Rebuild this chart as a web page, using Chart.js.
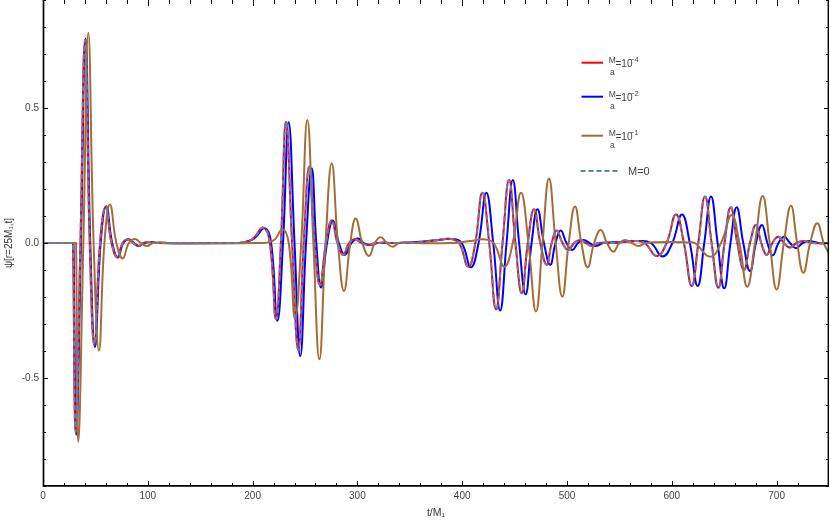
<!DOCTYPE html>
<html>
<head>
<meta charset="utf-8">
<title>psi waveform</title>
<script src="https://cdn.jsdelivr.net/npm/chart.js@4.4.1/dist/chart.umd.min.js"></script>
<style>
  html, body { margin: 0; padding: 0; background: #fff; }
  #wrap { width: 830px; height: 522px; }
</style>
</head>
<body>
<div id="wrap"><canvas id="psiChart" width="830" height="522"></canvas></div>
<script>
'use strict';

// ---- Series (t, psi) : extrema + zero crossings ----
const redT = [0, 28, 28.6, 31.2, 35.7, 40.1, 44.6, 49, 54.4, 59.8, 65.4, 70.9, 76, 81.4, 86, 91, 96, 102, 110,
  180, 190, 200, 210.2, 216.5, 222.3, 227, 231.9, 237.7, 243.6, 248.8, 254.1, 259.2, 264.3, 270, 275.5, 281, 286.5, 292, 297.7, 304, 310.4, 318,
  340, 360, 375, 388, 397, 405.8, 412.5, 419.2, 425.8, 432.3, 438.5, 444.7, 450.8, 456.8, 462.6, 468.5, 474.5, 480.6, 485.4, 490.2, 495.7, 501.2, 506.8, 512.4, 518, 523.5, 530,
  545, 563, 574, 585.6, 595, 604, 611.5, 619, 625.3, 631.7, 638, 644.4, 650.3, 656.2, 662.5, 668.9, 674.6, 680.3, 685.4, 690.5, 696, 701.6, 707, 712.8, 719, 725.5, 735, 750];
const redPsi = [0, 0, 0, -0.70, 0, 0.752, 0, -0.378, 0, 0.134, 0, -0.053, 0, 0.014, 0, -0.011, 0, 0.004, 0,
  0, 0.002, 0.015, 0.057, 0, -0.281, 0, 0.449, 0, -0.396, 0, 0.283, 0, -0.156, 0, 0.083, 0, -0.044, 0, 0.014, 0, -0.007, 0,
  0, 0.003, 0.010, 0.015, 0, -0.088, 0, 0.186, 0, -0.246, 0, 0.233, 0, -0.186, 0, 0.125, 0, -0.081, 0, 0.046, 0, -0.026, 0, 0.011, 0, -0.011, 0,
  0, 0.007, 0, -0.048, 0, 0.106, 0, -0.159, 0, 0.172, 0, -0.166, 0, 0.132, 0, -0.100, 0, 0.067, 0, -0.044, 0, 0.023, 0, -0.017, 0, 0.007, 0, 0];

const blueT = [0, 28.5, 29.1, 31.7, 36.2, 40.6, 45.1, 49.6, 55, 60.4, 66, 71.5, 76.6, 82, 86.6, 91.6, 96.6, 102.5, 110,
  180, 191, 201, 211.8, 217.7, 223.6, 229, 234.4, 240, 245.5, 251, 256.4, 260.8, 265.3, 271, 276.6, 282.3, 288, 294.3, 300.6, 306, 312, 320,
  340, 375, 390, 399.5, 408.3, 415.6, 423, 429.6, 436.2, 442.3, 448.3, 454.3, 460.5, 466.2, 471.8, 478, 484, 489, 494, 499.5, 505, 510.5, 516, 521.5, 527, 535,
  550, 568, 580, 591.3, 600.5, 609.7, 617.2, 624.7, 631, 637.4, 643.7, 650, 656, 661.9, 668.2, 674.6, 680.3, 686, 691.2, 696.3, 701.8, 707.3, 712.8, 718.5, 724.8, 731.2, 740, 750];
const bluePsi = [0, 0, 0, -0.71, 0, 0.757, 0, -0.385, 0, 0.136, 0, -0.054, 0, 0.014, 0, -0.011, 0, 0.004, 0,
  0, 0.002, 0.015, 0.055, 0, -0.288, 0, 0.447, 0, -0.419, 0, 0.277, 0, -0.165, 0, 0.083, 0, -0.044, 0, 0.017, 0, -0.007, 0,
  0, 0.010, 0.015, 0, -0.090, 0, 0.186, 0, -0.250, 0, 0.233, 0, -0.190, 0, 0.125, 0, -0.081, 0, 0.046, 0, -0.026, 0, 0.011, 0, -0.011, 0,
  0.003, 0.007, 0, -0.050, 0, 0.106, 0, -0.159, 0, 0.172, 0, -0.168, 0, 0.132, 0, -0.104, 0, 0.067, 0, -0.046, 0, 0.023, 0, -0.019, 0, 0.007, 0, 0];

const brownT = [0, 31, 31.6, 33.7, 38.5, 43.2, 48.3, 53.4, 58.6, 63.9, 70, 76, 82, 87.8, 93.4, 99, 105, 112, 120,
  205, 220, 228.4, 234.5, 240.5, 246.4, 252.2, 258, 263.7, 269.6, 275.5, 281.4, 287.2, 293.2, 298.4, 304.7, 311, 316.6, 322.2, 328, 333.7, 339.5, 345.4, 352,
  390, 400, 410, 420.2, 430, 440.2, 448.2, 456.1, 463.2, 470.4, 476.6, 482.8, 489.2, 495.5, 501.6, 507.6, 513.7, 519.7, 525.9, 532.1, 538.2, 544.2, 550, 555.5, 562, 568, 575,
  585, 600, 615, 622, 636.5, 647, 657.1, 664.5, 672, 679.4, 686.7, 693.4, 700, 706.9, 713.7, 719.6, 725.5, 732, 738.8, 745, 750];
const brownPsi = [0, 0, 0, -0.736, 0, 0.779, 0, -0.399, 0, 0.143, 0, -0.057, 0, 0.015, 0, -0.011, 0, 0.003, 0,
  0, 0.010, 0.051, 0, -0.279, 0, 0.456, 0, -0.431, 0, 0.295, 0, -0.178, 0, 0.091, 0, -0.048, 0, 0.021, 0, -0.014, 0, 0.003, 0,
  0, 0.004, 0.008, 0.014, 0, -0.088, 0, 0.186, 0, -0.254, 0, 0.239, 0, -0.199, 0, 0.135, 0, -0.090, 0, 0.048, 0, -0.032, 0, 0.011, 0, -0.011, 0,
  0.003, 0.004, 0.002, 0, -0.051, 0, 0.104, 0, -0.162, 0, 0.174, 0, -0.172, 0, 0.138, 0, -0.110, 0, 0.073, 0, -0.040];

// M=0 sits right on top of the 10^-4 curve
const m0T = redT;
const m0Psi = redPsi;

const legendExp = ['\u22124', '\u22122', '\u22121'];
const xTitle = 't/M\u2081';
const yTitle = '\u03c8[r=25M\u2081,t]';

const COLORS = {
  red: '#ff0000',
  blue: '#0000ff',
  brown: '#a36d35',
  m0: '#5e81b5',
  zero: '#cfcfcf',
  text: '#444',
};
const FONT = '"Liberation Sans", Arial, sans-serif';

function pts(ts, vs) { return ts.map((t, i) => ({ x: t, y: vs[i] })); }

function lineSet(label, data, color, order, dash) {
  return {
    label, data, order,
    borderColor: color,
    borderWidth: 2,
    borderDash: dash || [],
    pointRadius: 0,
    fill: false,
    tension: 0.45,
  };
}

// kill the label overhang padding so the plot box sits where the reference has it
function noPad(s) {
  s.paddingTop = 0; s.paddingBottom = 0; s.paddingLeft = 0; s.paddingRight = 0;
}

// ---- frame, inward ticks, custom legend ----
const framePlugin = {
  id: 'frame',
  afterDraw(chart) {
    const { ctx, chartArea: a, scales: { x, y } } = chart;
    ctx.save();
    ctx.strokeStyle = '#000';
    ctx.lineWidth = 1;
    const seg = (x1, y1, x2, y2) => { ctx.beginPath(); ctx.moveTo(x1, y1); ctx.lineTo(x2, y2); ctx.stroke(); };

    x.ticks.forEach(t => {
      const v = Math.round(t.value);
      if (v % 20) return;
      const px = Math.round(x.getPixelForValue(v)) + 0.5;
      const len = v % 100 === 0 ? 5 : 3;
      seg(px, a.bottom, px, a.bottom - len);
      seg(px, a.top, px, a.top + len + 1);
    });
    y.ticks.forEach(t => {
      const v = Math.round(t.value * 10);
      const py = Math.round(y.getPixelForValue(v / 10)) + 0.5;
      const len = v % 5 === 0 ? 5 : 3;
      seg(a.left, py, a.left + len, py);
      seg(a.right, py, a.right - len, py);
    });

    ctx.lineWidth = 1.7;
    seg(a.left + 0.5, a.top, a.left + 0.5, a.bottom + 1);
    seg(a.left, a.bottom - 0.2, a.right, a.bottom - 0.2);
    ctx.lineWidth = 1.4;
    seg(a.right - 0.7, a.top, a.right - 0.7, a.bottom);

    // legend
    const rows = [
      { y: 62.7, color: COLORS.red, exp: legendExp[0] },
      { y: 96.7, color: COLORS.blue, exp: legendExp[1] },
      { y: 135.7, color: COLORS.brown, exp: legendExp[2] },
    ];
    ctx.fillStyle = COLORS.text;
    rows.forEach(r => {
      ctx.strokeStyle = r.color;
      ctx.lineWidth = 2;
      seg(581.5, r.y, 603, r.y);
      ctx.textBaseline = 'alphabetic';
      ctx.textAlign = 'center';
      ctx.font = '8.5px ' + FONT;
      ctx.fillText('M', 612.3, r.y + 0.3);
      ctx.fillText('a', 612.3, r.y + 12.5);
      ctx.textAlign = 'left';
      ctx.font = '10px ' + FONT;
      ctx.fillText('=10', 615.5, r.y + 4);
      ctx.font = '7.5px ' + FONT;
      ctx.fillText(r.exp, 630, r.y - 0.8);
    });
    ctx.strokeStyle = COLORS.m0;
    ctx.lineWidth = 2;
    ctx.setLineDash([5, 3]);
    seg(580.5, 171, 619, 171);
    ctx.setLineDash([]);
    ctx.font = '11px ' + FONT;
    ctx.textAlign = 'left';
    ctx.fillText('M=0', 628, 175);
    ctx.restore();
  }
};

new Chart(document.getElementById('psiChart'), {
  type: 'line',
  data: {
    datasets: [
      lineSet('M=0', pts(m0T, m0Psi), COLORS.m0, 0, [5, 3]),
      lineSet('M/a=10^-1', pts(brownT, brownPsi), COLORS.brown, 1),
      lineSet('M/a=10^-4', pts(redT, redPsi), COLORS.red, 2),
      lineSet('M/a=10^-2', pts(blueT, bluePsi), COLORS.blue, 3),
    ]
  },
  options: {
    responsive: false,
    animation: false,
    layout: { padding: { top: 0, right: 1, left: 0, bottom: 0 } },
    plugins: { legend: { display: false }, tooltip: { enabled: false } },
    scales: {
      x: {
        type: 'linear',
        min: 0, max: 750,
        afterFit: s => { s.height = 36; noPad(s); },
        border: { display: false },
        grid: { display: false, drawTicks: false },
        ticks: {
          stepSize: 20, autoSkip: false, maxRotation: 0, padding: 4,
          color: COLORS.text, font: { family: FONT, size: 10 },
          callback: v => (Math.round(v) % 100 === 0 ? String(Math.round(v)) : ''),
        },
        title: { display: true, text: xTitle, color: '#333', font: { family: FONT, size: 10.5 }, padding: { bottom: 3, top: 0 } },
      },
      y: {
        min: -0.9, max: 0.9,
        afterFit: s => { s.width = 43; noPad(s); },
        border: { display: false },
        grid: {
          drawTicks: false,
          color: c => (Math.abs(c.tick.value) < 1e-9 ? COLORS.zero : 'rgba(0,0,0,0)'),
        },
        ticks: {
          stepSize: 0.1, autoSkip: false, padding: 4,
          color: COLORS.text, font: { family: FONT, size: 10 },
          callback: v => {
            const k = Math.round(v * 10);
            if (k % 5 || Math.abs(k) > 5) return '';
            return k === 0 ? '0.0' : (k / 10).toFixed(1);
          },
        },
        title: { display: true, text: yTitle, color: '#333', font: { family: FONT, size: 10 }, padding: { top: 3, bottom: 0 } },
      },
    },
  },
  plugins: [framePlugin],
});
</script>
</body>
</html>
